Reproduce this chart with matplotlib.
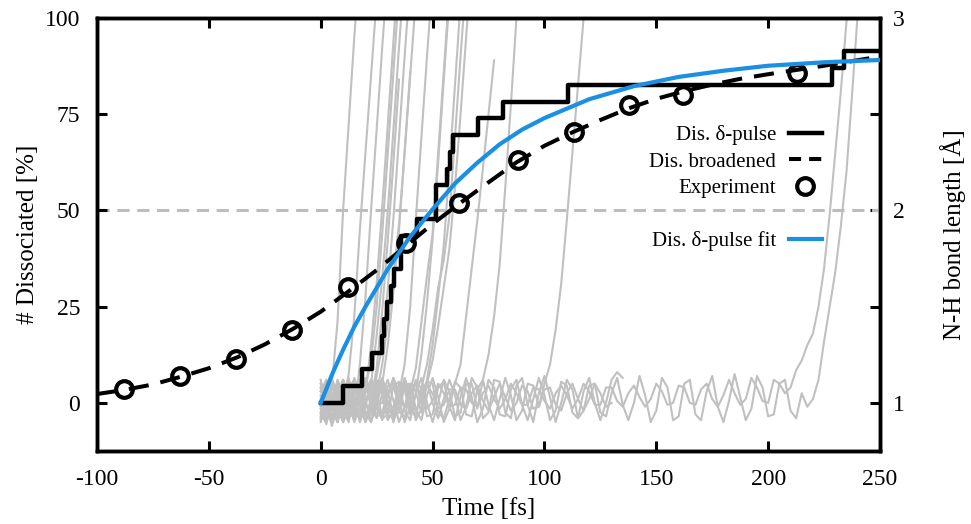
import matplotlib
matplotlib.use("Agg")
import matplotlib.pyplot as plt
from matplotlib.lines import Line2D
import numpy as np

plt.rcParams['font.family'] = ['Liberation Serif', 'DejaVu Serif']
plt.rcParams['axes.unicode_minus'] = False

# number of trajectories and the time at which each one passes 2 Angstrom [fs]
n_traj = 23
cross_times = [10.1, 18.3, 22.8, 27.3, 28.5, 29.8, 31.2, 32.8, 35.8, 35.8, 43.0,
               51.5, 51.5, 56.3, 57.8, 59.3, 70.5, 81.6, 110.6, 228.4, 234.0]

# broadened dissociation curve [%]
broad_t = [-100, -87.5, -75, -62.5, -50, -37.5, -25, -12.5, 0, 12.5, 25, 37.5, 50,
           62.5, 75, 87.5, 100, 112.5, 125, 137.5, 150, 162.5, 175, 187.5, 200,
           212.5, 225, 237.5, 250]
broad_y = [2.3, 3.4, 4.8, 6.8, 9.0, 11.8, 15.2, 19.2, 23.7, 29.0, 34.5, 40.5, 46.5,
           52.0, 57.3, 62.5, 66.8, 70.3, 73.5, 76.5, 79.0, 81.0, 82.7, 84.2, 85.4,
           86.5, 87.6, 88.8, 90.0]

# experiment
exp_t = [-88, -63, -38, -13, 12, 38, 62, 88, 113, 138, 162, 213]
exp_y = [3.6, 7.0, 11.4, 19.0, 30.2, 41.5, 52.0, 63.2, 70.5, 77.5, 80.0, 85.7]

# exponential fit of the delta-pulse curve [%]
fit_t = [0, 2.5, 5, 7.5, 10, 15, 20, 30, 40, 50, 60, 70, 80, 90, 100, 120, 140,
         160, 180, 200, 225, 250]
fit_y = [0, 3.6, 7.3, 10.6, 13.8, 19.8, 25.0, 34.8, 43.2, 50.3, 57.0, 62.4, 67.2,
         71.0, 74.0, 78.9, 82.3, 84.7, 86.3, 87.6, 88.5, 89.1]

# N-H bond length of each trajectory [Angstrom], one value every 2.5 fs from t = 0
dt = 2.5
trajs = [
    [1.04, 0.96, 1.10, 1.42, 2.00, 2.45, 2.90, 3.30],
    [0.95, 1.08, 1.02, 0.9, 1.0, 1.15, 1.45, 1.9, 2.3, 2.7, 3.1],
    [1.1, 1.0, 0.88, 0.98, 1.12, 1.0, 0.95, 1.2, 1.55, 2.0, 2.42, 2.85, 3.25],
    [0.92, 1.05, 1.12, 0.98, 0.9, 1.04, 1.1, 0.97, 1.05, 1.3, 1.62, 2.02, 2.45,
     2.88, 3.3],
    [1.02, 1.12, 0.97, 0.9, 1.05, 1.13, 0.98, 0.92, 1.08, 1.22, 1.5, 1.88, 2.3,
     2.72, 3.15],
    [0.98, 0.9, 1.03, 1.1, 0.96, 0.9, 1.06, 1.12, 1.0, 1.1, 1.35, 1.65, 2.0, 2.42,
     2.85, 3.25],
    [1.08, 0.95, 0.9, 1.04, 1.12, 0.99, 0.91, 1.05, 1.13, 1.02, 1.18, 1.48, 1.85,
     2.25, 2.68],
    [0.9, 1.0, 1.11, 1.03, 0.92, 0.99, 1.1, 1.04, 0.93, 1.0, 1.14, 1.3, 1.6, 1.96,
     2.38, 2.8, 3.2],
    [1.06, 1.12, 0.98, 0.9, 1.02, 1.1, 0.97, 0.92, 1.07, 1.12, 1.0, 1.1, 1.3, 1.58,
     1.9, 2.3, 2.7, 3.1],
    [0.95, 0.89, 1.0, 1.12, 1.05, 0.93, 0.96, 1.09, 1.11, 0.98, 1.05, 1.2, 1.42,
     1.66, 1.93, 2.3, 2.72],
    [1.12, 1.0, 0.9, 0.97, 1.09, 1.08, 0.95, 0.92, 1.06, 1.12, 0.99, 0.91, 1.04,
     1.13, 1.05, 1.2, 1.5, 1.95, 2.38, 2.8, 3.2],
    [1.0, 1.1, 1.05, 0.92, 0.95, 1.08, 1.12, 0.98, 0.9, 1.03, 1.11, 1.04, 0.91, 0.97,
     1.1, 1.07, 0.94, 1.05, 1.25, 1.52, 1.85, 2.25, 2.68, 3.1],
    [0.93, 0.99, 1.12, 1.06, 0.9, 0.97, 1.1, 1.1, 0.95, 0.9, 1.05, 1.13, 1.0, 0.9,
     1.0, 1.12, 1.06, 1.18, 1.42, 1.66, 1.88, 2.3, 2.72, 3.15],
    [1.07, 0.96, 0.91, 1.05, 1.12, 1.0, 0.9, 0.98, 1.11, 1.06, 0.93, 0.94, 1.09, 1.1,
     0.96, 0.92, 1.06, 1.11, 1.0, 1.12, 1.3, 1.55, 1.82, 2.22, 2.65, 3.08],
    [0.97, 1.09, 1.1, 0.95, 0.91, 1.04, 1.12, 1.02, 0.9, 0.97, 1.1, 1.08, 0.93, 0.93,
     1.07, 1.11, 0.98, 0.93, 1.08, 1.2, 1.38, 1.6, 1.74, 1.97, 2.38, 2.8, 3.2],
    [1.03, 0.92, 0.97, 1.1, 1.07, 0.93, 0.94, 1.08, 1.11, 0.98, 0.92, 1.05, 1.12,
     1.01, 0.9, 0.98, 1.1, 1.06, 0.95, 1.1, 1.22, 1.4, 1.6, 1.8, 2.12, 2.5, 2.9, 3.3],
    [0.94, 1.05, 1.12, 1.01, 0.9, 0.99, 1.11, 1.07, 0.93, 0.94, 1.08, 1.12, 0.99,
     0.91, 1.03, 1.13, 1.04, 0.91, 0.97, 1.11, 1.1, 0.95, 0.92, 1.02, 1.1, 1.2, 1.45,
     1.7, 1.95, 2.22, 2.5, 2.78],
    [1.06, 1.1, 0.97, 0.91, 1.04, 1.12, 1.02, 0.9, 0.98, 1.12, 1.07, 0.92, 0.94, 1.09,
     1.11, 0.96, 0.91, 1.05, 1.13, 1.0, 0.9, 1.0, 1.12, 1.06, 0.93, 0.95, 1.1, 1.1,
     0.97, 1.12, 1.25, 1.45, 1.72, 2.12, 2.55, 3.0, 3.4],
    [0.91, 0.99, 1.1, 1.08, 0.95, 0.92, 1.05, 1.12, 1.01, 0.9, 0.99, 1.12, 1.06, 0.93,
     0.95, 1.09, 1.1, 0.97, 0.91, 1.04, 1.13, 1.03, 0.9, 0.97, 1.11, 1.08, 0.94, 0.93,
     1.07, 1.12, 0.99, 0.91, 1.02, 1.13, 1.04, 0.91, 0.96, 1.1, 1.09, 0.98, 1.1, 1.2,
     1.38, 1.62, 1.95, 2.3, 2.65, 3.0, 3.35],
    [1.08, 1.03, 0.97, 1.02, 1.09, 1.05, 0.98, 1.01, 1.07, 1.06, 0.99, 1.0, 1.06, 1.08,
     1.01, 0.98, 1.04, 1.1, 1.03, 0.97, 1.01, 1.1, 1.05, 0.98, 0.99, 1.08, 1.07, 1.0,
     0.98, 1.05, 1.09, 1.02, 0.97, 1.02, 1.1, 1.05, 0.99, 0.99, 1.08, 1.07, 1.01, 0.97,
     1.05, 1.09, 1.04, 0.97, 1.02, 1.1, 1.06, 0.99, 0.99, 1.08, 1.08, 1.01, 0.98, 1.05,
     1.09, 1.03, 0.98, 1.02, 1.1, 1.06, 0.99, 1.0, 1.09, 1.08, 1.0, 0.99, 1.07, 1.1,
     1.02, 0.98, 1.04, 1.12, 1.05, 0.99, 1.02, 1.13, 1.08, 1.01, 1.0, 1.12, 1.1, 1.05,
     1.08, 1.17, 1.22, 1.3, 1.36, 1.5, 1.7, 1.98, 2.3, 2.62, 2.98, 3.3],
    [0.92, 1.02, 1.12, 1.03, 0.91, 1.0, 1.13, 1.05, 0.93, 0.99, 1.12, 1.06, 0.95, 0.96,
     1.1, 1.09, 0.97, 0.93, 1.06, 1.11, 1.0, 0.92, 1.02, 1.12, 1.04, 0.91, 0.98, 1.13,
     1.08, 0.92, 0.95, 1.12, 1.11, 0.95, 0.92, 1.09, 1.13, 0.99, 0.9, 1.05, 1.14, 1.03,
     0.9, 1.0, 1.12, 1.07, 0.92, 0.96, 1.09, 1.1, 0.95, 0.93, 1.05, 1.13, 0.99, 0.91,
     1.0, 1.14, 1.04, 0.9, 0.96, 1.13, 1.08, 0.91, 0.93, 1.1, 1.12, 0.94, 0.91, 1.06,
     1.14, 0.98, 0.9, 1.01, 1.15, 1.03, 0.91, 0.97, 1.14, 1.08, 0.93, 0.94, 1.1, 1.12,
     0.96, 0.92, 1.05, 0.98, 1.02, 1.12, 1.32, 1.5, 1.68, 1.92, 2.2, 2.6, 3.02, 3.4],
    [1.1, 1.02, 0.93, 0.98, 1.11, 1.06, 0.94, 0.95, 1.09, 1.1, 0.97, 0.92, 1.04, 1.13,
     1.02, 0.9, 0.98, 1.12, 1.07, 0.93, 0.94, 1.08, 1.11, 0.98, 0.91, 1.03, 1.13, 1.03,
     0.9, 0.97, 1.12, 1.08, 0.94, 0.93, 1.07, 1.12, 0.99, 0.91, 1.02, 1.13, 1.04, 0.91,
     0.96, 1.11, 1.09, 0.95, 0.92, 1.06, 1.13, 1.0, 0.91, 1.0, 1.12, 1.16, 1.13],
    [0.97, 1.03, 1.08, 1.04, 0.98, 1.0, 1.07, 1.06, 0.99, 0.98, 1.05, 1.08, 1.01, 0.97,
     1.03, 1.09, 1.03, 0.96, 1.01, 1.09, 1.05, 0.97, 0.99, 1.07, 1.07, 0.99, 0.97, 1.05,
     1.09, 1.01, 0.96, 1.03, 1.1, 1.03, 0.96, 1.0, 1.09, 1.06, 0.97, 0.98, 1.07, 1.08,
     0.99, 0.96, 1.05, 1.1, 1.02, 0.96, 1.02, 1.1, 1.05, 0.98, 1.0],
]

blue = '#1a8fe3'
gray = '#c0c0c0'

fig = plt.figure(figsize=(9.71, 5.24), dpi=100)
ax = fig.add_axes([0.0999, 0.1393, 0.8064, 0.8263])
ax2 = ax.twinx()
ax.set_zorder(ax2.get_zorder() + 1)
ax.patch.set_visible(False)

# trajectories on the right axis
for r in trajs:
    ax2.plot(np.arange(len(r)) * dt, r, color=gray, lw=1.5, solid_joinstyle='round')

# dissociated fraction from the crossing times
steps_t = [0] + sorted(cross_times) + [250]
steps_y = [100.0 * i / n_traj for i in range(len(cross_times) + 1)]
steps_y = steps_y + [steps_y[-1]]

ax.axhline(50, color='#bdbdbd', lw=2.2, dashes=(4, 2.5), zorder=1)
ax.step(steps_t, steps_y, where='post', color='black', lw=3.2, zorder=3)
ax.plot(broad_t, broad_y, color='black', lw=2.9, dashes=(5, 3), zorder=3)
ax.plot(exp_t, exp_y, 'o', ms=12, mfc='none', mec='black', mew=3.0, zorder=4)
ax.plot(fit_t, fit_y, color=blue, lw=3.0, zorder=5)

ax.set_xlim(-100, 250)
ax.set_ylim(-12.5, 100)
ax2.set_ylim(0.75, 3)
ax.set_xticks([-100, -50, 0, 50, 100, 150, 200, 250])
ax.set_yticks([0, 25, 50, 75, 100])
ax2.set_yticks([1, 1.5, 2, 2.5, 3], ['1', '', '2', '', '3'])

ax.tick_params(direction='in', length=7, width=2.2, labelsize=17,
               top=True, right=False)
ax.tick_params(axis='x', pad=13)
ax.tick_params(axis='y', pad=12)
ax2.tick_params(direction='in', length=7, width=2.2, labelsize=17, pad=9)
for a in (ax, ax2):
    for s in a.spines.values():
        s.set_linewidth(2.5)

ax.set_xlabel('Time [fs]', fontsize=18, labelpad=6)
ax.set_ylabel('# Dissociated [%]', fontsize=18, labelpad=4)
ax2.set_ylabel('N-H bond length [Å]', fontsize=18, labelpad=26)

handles = [Line2D([], [], color='black', lw=3.2),
           Line2D([], [], color='black', lw=2.9, dashes=(3, 2)),
           Line2D([], [], ls='none', marker='o', ms=12, mfc='none', mec='black', mew=3.0),
           Line2D([], [], color='none'),
           Line2D([], [], color=blue, lw=3.0)]
labels = ['Dis. δ-pulse', 'Dis. broadened', 'Experiment', '', 'Dis. δ-pulse fit']
ax.legend(handles, labels, loc='upper right', bbox_to_anchor=(0.926, 0.752),
          markerfirst=False, frameon=False, fontsize=15, handlelength=1.6,
          handletextpad=0.6, labelspacing=0.32, borderpad=0, borderaxespad=0)

fig.savefig('out.png', dpi=100)
